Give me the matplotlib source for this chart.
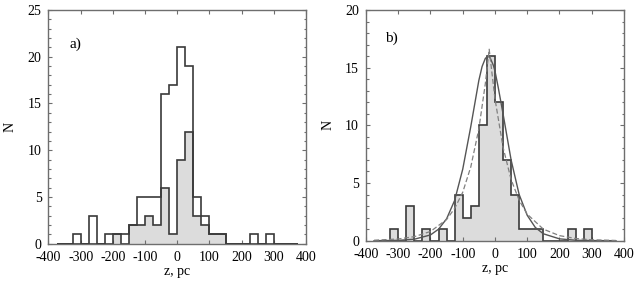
import numpy as np
import matplotlib.pyplot as plt
from matplotlib.ticker import MultipleLocator

plt.rcParams['font.family'] = ['Liberation Serif', 'DejaVu Serif']
plt.rcParams['axes.unicode_minus'] = False

# bin edges, 25 pc wide, -375..375
edges = np.arange(-375, 376, 25)

# panel a: all objects (open) and subset (grey)
counts_a = [0, 0, 1, 0, 3, 0, 1, 1, 1, 2, 5, 5, 5, 16, 17,
            21, 19, 5, 3, 1, 1, 0, 0, 0, 1, 0, 1, 0, 0, 0]
sub_a = [0, 0, 0, 0, 0, 0, 0, 1, 0, 2, 2, 3, 2, 6, 1,
         9, 12, 3, 2, 1, 1, 0, 0, 0, 0, 0, 0, 0, 0, 0]

# panel b histogram
counts_b = [0, 0, 1, 0, 3, 0, 1, 0, 1, 0, 4, 2, 3, 10, 16,
            12, 7, 4, 1, 1, 1, 0, 0, 0, 1, 0, 1, 0, 0, 0]

# fitted curves
z_solid = [-375, -300, -250, -200, -175, -150, -125, -100, -75, -50, -40, -30,
           -22, -15, -5, 0, 10, 25, 50, 75, 100, 125, 150, 200, 250, 300, 375]
n_solid = [0.0, 0.03, 0.13, 0.5, 1.0, 1.9, 3.5, 6.2, 9.9, 13.9, 15.1, 15.8,
           16.0, 15.85, 15.2, 14.7, 13.3, 11.0, 7.0, 4.0, 2.2, 1.15, 0.6, 0.16, 0.04, 0.01, 0.0]
z_dash = [-375, -300, -250, -200, -150, -125, -100, -75, -50, -30, -18,
          0, 25, 50, 75, 100, 150, 200, 250, 300, 375]
n_dash = [0.04, 0.15, 0.35, 0.8, 1.84, 2.8, 4.2, 6.4, 9.7, 13.6, 16.6,
          12.3, 8.1, 5.3, 3.5, 2.3, 1.0, 0.44, 0.19, 0.08, 0.02]

line_c = '#3a3a3a'
fill_c = '#dcdcdc'
spine_c = '#6e6e6e'

fig = plt.figure(figsize=(6.43, 2.90), dpi=100)
ax1 = fig.add_axes([0.0754, 0.1597, 0.4005, 0.8059])
ax2 = fig.add_axes([0.5692, 0.1700, 0.4012, 0.7955])


def style(ax, ymax):
    ax.set_xlim(-400, 400)
    ax.set_ylim(0, ymax)
    ax.xaxis.set_major_locator(MultipleLocator(100))
    ax.yaxis.set_major_locator(MultipleLocator(5))
    ax.yaxis.set_minor_locator(MultipleLocator(1))
    ax.tick_params(which='both', direction='in', top=True, right=True,
                   color=spine_c, labelsize=10, width=0.8)
    ax.tick_params(which='major', length=3, pad=5)
    ax.tick_params(which='minor', length=1.8)
    for s in ax.spines.values():
        s.set_color(spine_c)
        s.set_linewidth(1.0)
    ax.set_xlabel('z, pc', fontsize=10, labelpad=1)
    ax.set_ylabel('N', fontsize=10, labelpad=8)


# a)
ax1.stairs(sub_a, edges, fill=True, color=fill_c, zorder=1)
ax1.stairs(sub_a, edges, color=line_c, lw=1.2, zorder=2)
ax1.stairs(counts_a, edges, color=line_c, lw=1.2, zorder=3)
style(ax1, 25)
ax1.text(-335, 21, 'a)', fontsize=11)

# b)
ax2.stairs(counts_b, edges, fill=True, color=fill_c, zorder=1)
ax2.stairs(counts_b, edges, color=line_c, lw=1.2, zorder=2)
ax2.plot(z_solid, n_solid, color='#555555', lw=1.0, zorder=3)
ax2.plot(z_dash, n_dash, color='#808080', lw=0.9, ls='--', dashes=(4, 2), zorder=4)
style(ax2, 20)
ax2.text(-340, 17.2, 'b)', fontsize=11)

fig.savefig('out.png', dpi=100)
